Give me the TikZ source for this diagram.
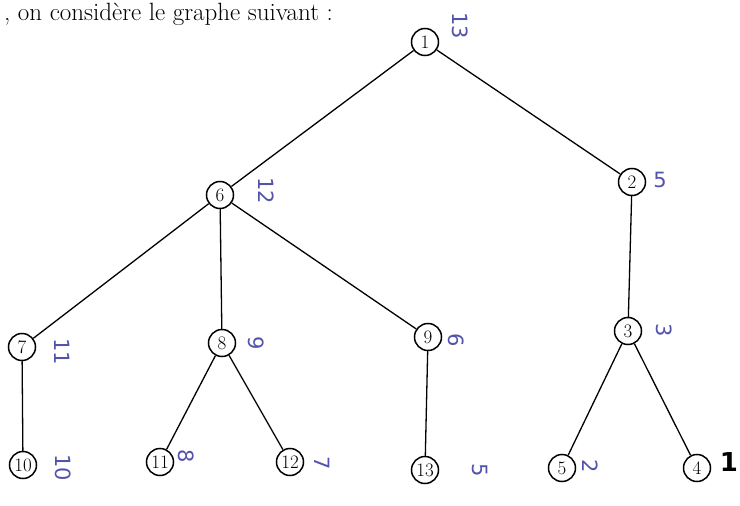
\documentclass[tikz,border=0pt]{standalone}
\usepackage{fontspec}
\newfontfamily\hand{DejaVu Sans}
\begin{document}
\begin{tikzpicture}[x=1pt,y=-1pt,
  vtx/.style={draw, circle, line width=1.5pt, minimum size=27pt, inner sep=0pt, font=\fontsize{19}{19}\selectfont},
  edge/.style={line width=1.3pt},
  hw/.style={text=blue!35!gray, font=\hand\fontsize{21}{21}\selectfont, inner sep=0pt},
  hwr/.style={hw, rotate=-90}]
\useasboundingbox (0,0) rectangle (740,506);
\node[anchor=base west, inner sep=0pt, font=\fontsize{25}{25}\selectfont] (title) at (4,20) {, on considère le graphe suivant :};
\node[vtx] (n1) at (425,42) {1};
\node[vtx] (n6) at (220,195) {6};
\node[vtx] (n2) at (632,182) {2};
\node[vtx] (n7) at (22,347) {7};
\node[vtx] (n8) at (222,343) {8};
\node[vtx] (n9) at (428,337) {9};
\node[vtx] (n3) at (628,331) {3};
\node[vtx] (n10) at (23,465) {10};
\node[vtx] (n11) at (160,462) {11};
\node[vtx] (n12) at (290,462) {12};
\node[vtx] (n13) at (425,470) {13};
\node[vtx] (n5) at (562,468) {5};
\node[vtx] (n4) at (697,468) {4};
\draw[edge] (n1) -- (n6);
\draw[edge] (n1) -- (n2);
\draw[edge] (n6) -- (n7);
\draw[edge] (n6) -- (n8);
\draw[edge] (n6) -- (n9);
\draw[edge] (n2) -- (n3);
\draw[edge] (n7) -- (n10);
\draw[edge] (n8) -- (n11);
\draw[edge] (n8) -- (n12);
\draw[edge] (n9) -- (n13);
\draw[edge] (n3) -- (n5);
\draw[edge] (n3) -- (n4);
\node[hwr] (l1) at (460,26) {13};
\node[hwr] (l6) at (266,191) {12};
\node[hw] (l2) at (660,180) {5};
\node[hwr] (l7) at (62,352) {11};
\node[hwr] (l8) at (256,343) {9};
\node[hwr] (l9) at (456,340) {6};
\node[hwr] (l3) at (664,330) {3};
\node[hwr] (l10) at (63,468) {10};
\node[hwr] (l11) at (186,456) {8};
\node[hwr] (l12) at (322,463) {7};
\node[hwr] (l13) at (480,470) {5};
\node[hwr] (l5) at (590,466) {2};
\node[hw, text=black, font=\hand\bfseries\fontsize{26}{26}\selectfont] (l4) at (729,462) {1};
\end{tikzpicture}
\end{document}
